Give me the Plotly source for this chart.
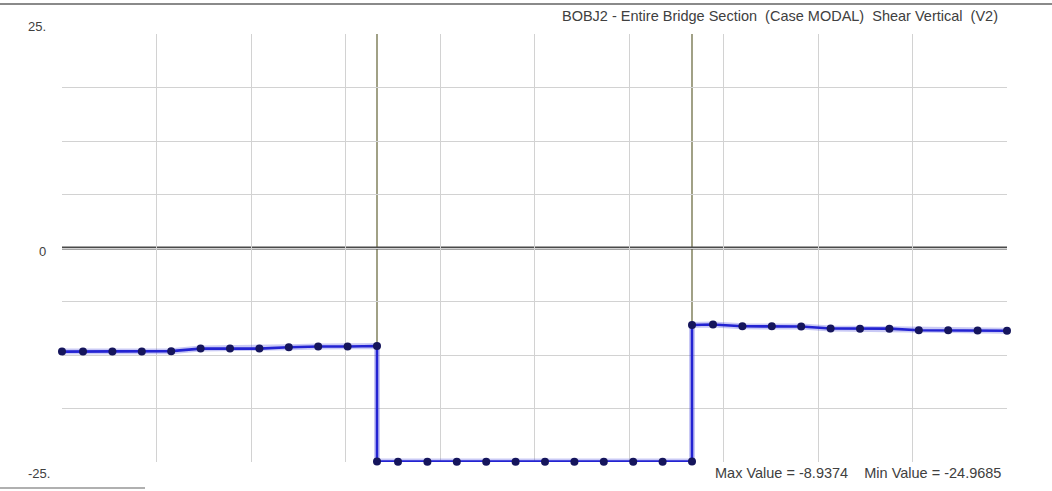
import plotly.graph_objects as go

# Station offsets (m) of the output points within each 30 m span
span_offsets = [0.0, 2.0, 4.8, 7.6, 10.4, 13.2, 16.0, 18.8, 21.6, 24.4, 27.2, 30.0]
span_starts = [0.0, 30.0, 60.0]
support_x = [30.0, 60.0]

# Vertical shear V2 per span (kN)
shear_span1 = [-12.10, -12.10, -12.10, -12.10, -12.05, -11.75, -11.75, -11.75, -11.60, -11.50, -11.50, -11.45]
shear_span2 = [-24.95, -24.96, -24.96, -24.96, -24.96, -24.9685, -24.96, -24.96, -24.96, -24.96, -24.96, -24.95]
shear_span3 = [-9.00, -8.9374, -9.15, -9.15, -9.17, -9.40, -9.42, -9.42, -9.60, -9.62, -9.64, -9.66]

title_text = "BOBJ2 - Entire Bridge Section  (Case MODAL)  Shear Vertical  (V2)"
y_labels = ["25.", "0", "-25."]
y_label_vals = [25, 0, -25]

x_vals = []
y_vals = []
for start, vals in zip(span_starts, [shear_span1, shear_span2, shear_span3]):
    x_vals += [start + o for o in span_offsets]
    y_vals += vals

max_v = max(y_vals)
min_v = min(y_vals)

W, H = 1052, 491
ml, mr, mt, mb = 62, 45, 34, 29
pw, ph = W - ml - mr, H - mt - mb
TXT = dict(family="Liberation Sans, Arial", size=14.5, color="#404040")

fig = go.Figure()

# soft halo under the shear diagram
fig.add_trace(go.Scatter(
    x=x_vals, y=y_vals, mode="lines",
    line=dict(color="rgba(60,60,220,0.28)", width=6),
    hoverinfo="skip", showlegend=False, cliponaxis=False,
))
fig.add_trace(go.Scatter(
    x=x_vals, y=y_vals, mode="lines+markers",
    line=dict(color="#2323d2", width=2.6),
    marker=dict(color="#15155c", size=8),
    hoverinfo="skip", showlegend=False, cliponaxis=False,
))

shapes = []
# support lines
for sx in support_x:
    shapes.append(dict(type="line", xref="x", yref="y", x0=sx, x1=sx, y0=-25, y1=25,
                       line=dict(color="#6e6e45", width=1.3), layer="below"))
# zero line
shapes.append(dict(type="line", xref="x", yref="y", x0=0, x1=90, y0=0, y1=0,
                   line=dict(color="#4a4a4a", width=3), layer="below"))
# frame rule at the top of the window
shapes.append(dict(type="line", xref="paper", yref="paper",
                   x0=-ml / pw, x1=1 + mr / pw, y0=1 + (mt - 4) / ph, y1=1 + (mt - 4) / ph,
                   line=dict(color="#8a8a8a", width=2)))
# short rule bottom left
shapes.append(dict(type="line", xref="paper", yref="paper",
                   x0=-ml / pw, x1=(145 - ml) / pw, y0=-(488 - mt - ph) / ph, y1=-(488 - mt - ph) / ph,
                   line=dict(color="#b0b0b0", width=2)))

annotations = [
    dict(text=title_text, xref="paper", yref="paper", x=(1000 - ml) / pw, y=1 + (mt - 16) / ph,
         xanchor="right", yanchor="middle", showarrow=False, font=TXT),
    dict(text=f"Max Value = {max_v:.4f}    Min Value = {min_v:.4f}", xref="paper", yref="paper",
         x=(1003 - ml) / pw, y=-(473 - mt - ph) / ph,
         xanchor="right", yanchor="middle", showarrow=False, font=TXT),
]
label_pos = {"25.": (37, 26), "0": (42, 251), "-25.": (39, 474)}
for lab, v in zip(y_labels, y_label_vals):
    px, py = label_pos[lab]
    annotations.append(dict(text=lab, xref="paper", yref="paper",
                            x=(px - ml) / pw, y=1 - (py - mt) / ph,
                            xanchor="center", yanchor="middle", showarrow=False,
                            font=dict(family="Liberation Sans, Arial", size=13, color="#404040")))

fig.update_layout(
    width=W, height=H,
    margin=dict(l=ml, r=mr, t=mt, b=mb),
    paper_bgcolor="white", plot_bgcolor="white",
    shapes=shapes, annotations=annotations,
    xaxis=dict(range=[0, 90], dtick=9, tick0=0, showgrid=True, gridcolor="#d2d2d2", gridwidth=1,
               showticklabels=False, ticks="", zeroline=False, showline=False, fixedrange=True),
    yaxis=dict(range=[-25, 25], dtick=6.25, tick0=0, showgrid=True, gridcolor="#d2d2d2", gridwidth=1,
               showticklabels=False, ticks="", zeroline=False, showline=False, fixedrange=True),
)

fig.write_html("out.html", config={"displayModeBar": False})
